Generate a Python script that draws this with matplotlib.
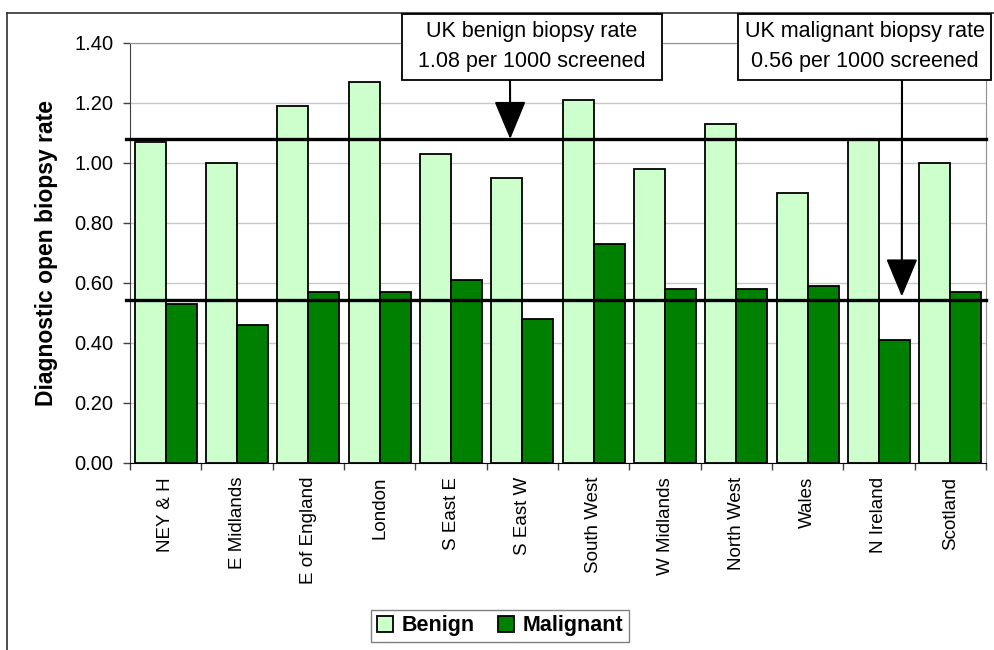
import numpy as np
import matplotlib
matplotlib.use("Agg")
import matplotlib.pyplot as plt
from matplotlib.lines import Line2D
from matplotlib.patches import Rectangle

plt.rcParams['font.family'] = ['Liberation Sans', 'DejaVu Sans']

regions = ["NEY & H", "E Midlands", "E of England", "London", "S East E", "S East W",
           "South West", "W Midlands", "North West", "Wales", "N Ireland", "Scotland"]
benign = [1.07, 1.00, 1.19, 1.27, 1.03, 0.95, 1.21, 0.98, 1.13, 0.90, 1.08, 1.00]
malignant = [0.53, 0.46, 0.57, 0.57, 0.61, 0.48, 0.73, 0.58, 0.58, 0.59, 0.41, 0.57]
uk_benign = 1.08
uk_malignant = 0.545
yticks = [0.0, 0.2, 0.4, 0.6, 0.8, 1.0, 1.2, 1.4]

W, H = 994, 650
fig = plt.figure(figsize=(W / 100, H / 100), dpi=100)
ax = fig.add_axes([130 / W, 1 - 463 / H, 856 / W, 420 / H])

x = np.arange(len(regions))
bw = 0.435
ax.bar(x - bw / 2, benign, bw, color="#CCFFCC", edgecolor="black", linewidth=1.3,
       label="Benign", zorder=3)
ax.bar(x + bw / 2, malignant, bw, color="#008000", edgecolor="black", linewidth=1.3,
       label="Malignant", zorder=3)

ax.set_xlim(-0.5, len(regions) - 0.5)
ax.set_ylim(0, 1.4)
ax.set_yticks(yticks)
ax.set_yticklabels([f"{v:.2f}" for v in yticks], fontsize=14.5)
ax.yaxis.grid(True, color="#c8c8c8", linewidth=1, zorder=0)
ax.set_axisbelow(True)

ax.set_xticks(x)
ax.set_xticklabels(regions, rotation=90, fontsize=13.5, va="top", ha="center")
ax.tick_params(axis="x", which="major", length=0, pad=10)
ax.set_xticks(np.arange(-0.5, len(regions)), minor=True)
ax.tick_params(axis="x", which="minor", length=5, width=1, color="#404040")
ax.tick_params(axis="y", length=5, width=1, color="#404040", pad=7)

for s in ["top", "right"]:
    ax.spines[s].set_color("#909090")
ax.spines["left"].set_color("#404040")
ax.spines["bottom"].set_color("black")

ax.set_ylabel("Diagnostic open biopsy rate", fontsize=16.5, fontweight="bold")
ax.yaxis.set_label_coords(-0.084, 0.5)

# UK reference lines
ax.plot([-0.55, len(regions) - 0.5], [uk_benign, uk_benign], color="black", lw=2.4,
        zorder=5, clip_on=False)
ax.plot([-0.55, len(regions) - 0.5], [uk_malignant, uk_malignant], color="black", lw=2.4,
        zorder=5, clip_on=False)

# callout boxes (pixel positions from top-left)
callouts = [
    ((402, 14, 662, 80), "UK benign biopsy rate", "1.08 per 1000 screened"),
    ((738, 14, 991, 80), "UK malignant biopsy rate", "0.56 per 1000 screened"),
]
for (x0, y0, x1, y1), line1, line2 in callouts:
    fig.add_artist(Rectangle((x0 / W, 1 - y1 / H), (x1 - x0) / W, (y1 - y0) / H,
                             transform=fig.transFigure, facecolor="white",
                             edgecolor="black", linewidth=1.3, zorder=10))
    xc = (x0 + x1) / 2 / W
    fig.text(xc, 1 - 31 / H, line1, ha="center", va="center", fontsize=15.5, zorder=11)
    fig.text(xc, 1 - 62 / H, line2, ha="center", va="center", fontsize=15.5, zorder=11)

arrow = dict(arrowstyle="-|>,head_length=1.2,head_width=0.5", color="black", lw=1.5,
             mutation_scale=20, shrinkA=0, shrinkB=0)
ax.annotate("", xy=(4.83, uk_benign), xytext=(510 / W, 1 - 80 / H),
            textcoords="figure fraction", arrowprops=arrow, zorder=6)
ax.annotate("", xy=(10.32, 0.555), xytext=(902 / W, 1 - 80 / H),
            textcoords="figure fraction", arrowprops=arrow, zorder=6)

leg = fig.legend(loc="center", bbox_to_anchor=(500 / W, 1 - 626 / H), ncol=2,
                 prop={"weight": "bold", "size": 15.5}, frameon=True, fancybox=False,
                 handlelength=0.75, handleheight=0.75, handletextpad=0.4,
                 columnspacing=1.1, borderpad=0.25)
leg.get_frame().set_edgecolor("#606060")
leg.get_frame().set_linewidth(1)

# outer chart border
fig.add_artist(Line2D([7 / W, 7 / W], [0, 1 - 13 / H], color="#303030", lw=1.2))
fig.add_artist(Line2D([7 / W, 1], [1 - 13 / H, 1 - 13 / H], color="#303030", lw=1.2))

fig.savefig("out.png", dpi=100)
